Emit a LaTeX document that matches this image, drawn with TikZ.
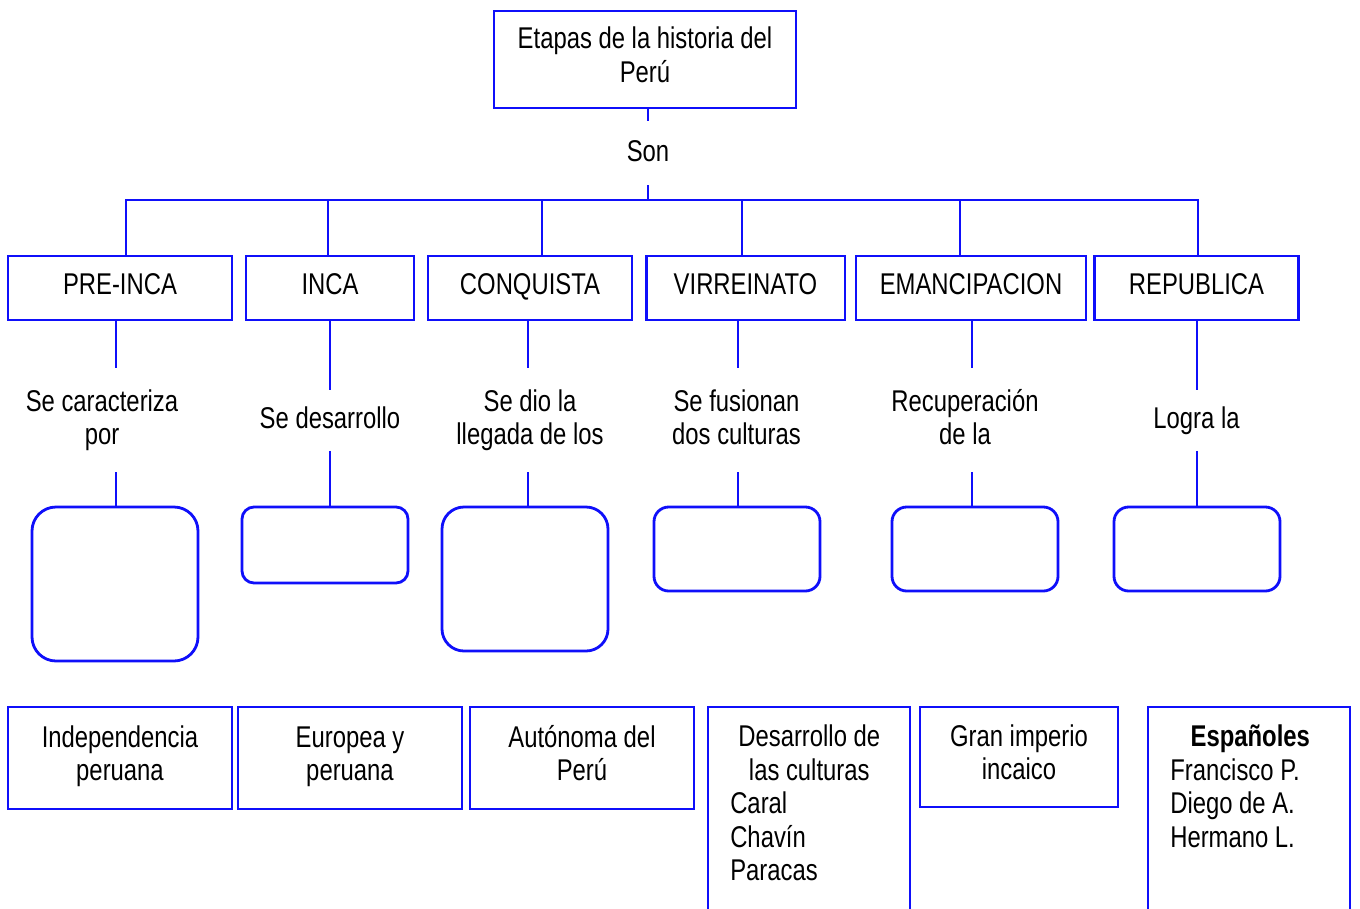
\documentclass[tikz,border=0pt]{standalone}
\usepackage{fontspec}
\setmainfont{Liberation Sans}[FakeStretch=0.795]
\definecolor{lblue}{RGB}{15,15,250}
\newcommand\tstr{\rule{0pt}{17pt}}
\newcommand\bstr{\rule[-5pt]{0pt}{5pt}}
\newcommand\bstrb{\rule[-8pt]{0pt}{8pt}}
\begin{document}
\begin{tikzpicture}[x=0.75pt,y=-0.75pt,
  font=\fontsize{22.5pt}{25.2pt}\selectfont,
  sq/.style={draw=lblue, line width=2pt, align=center, inner sep=0pt},
  rbox/.style={draw=lblue, line width=2.1pt, inner sep=0pt, minimum width=124.5pt},
  mid/.style={align=center, inner sep=0pt},
  conn/.style={draw=lblue, line width=2pt}]
\useasboundingbox (0,0) rectangle (1360,908);
\clip (0,0) rectangle (1360,908);
\fill[white] (0,0) rectangle (1360,908);

% title
\node[sq, minimum width=226.5pt, minimum height=72.75pt] (title) at (645,59.5) {\tstr Etapas de la historia del\\Perú\bstrb};
\node[mid, minimum height=48pt] (son) at (648,153) {\tstr Son\bstr};

% stage boxes
\node[sq, minimum width=168pt, minimum height=48pt] (preinca) at (120,288) {\tstr PRE-INCA\bstrb};
\node[sq, minimum width=126pt, minimum height=48pt] (inca) at (330,288) {\tstr INCA\bstrb};
\node[sq, minimum width=153pt, minimum height=48pt] (conquista) at (530,288) {\tstr CONQUISTA\bstrb};
\node[sq, minimum width=149pt, minimum height=48pt] (virreinato) at (745.5,288) {\tstr VIRREINATO\bstrb};
\node[sq, minimum width=172.5pt, minimum height=48pt] (emanc) at (971,288) {\tstr EMANCIPACION\bstrb};
\node[sq, minimum width=153pt, minimum height=48pt] (republica) at (1196.5,288) {\tstr REPUBLICA\bstrb};

% middle texts
\node[mid, minimum height=78pt] (m1) at (102,420) {\tstr Se caracteriza\\por\bstr};
\node[mid, minimum height=45pt] (m2) at (330,420.5) {\tstr Se desarrollo\bstr};
\node[mid, minimum height=78pt] (m3) at (530,420) {\tstr Se dio la\\llegada de los\bstr};
\node[mid, minimum height=78pt] (m4) at (736.5,420) {\tstr Se fusionan\\dos culturas\bstr};
\node[mid, minimum height=78pt] (m5) at (965,420) {\tstr Recuperación\\de la\bstr};
\node[mid, minimum height=45pt] (m6) at (1196.5,420.5) {\tstr Logra la\bstr};

% empty rounded boxes
\node[rbox, minimum height=115.5pt, rounded corners=18pt] (r1) at (115,584) {};
\node[rbox, minimum height=57pt, rounded corners=9pt] (r2) at (325,545) {};
\node[rbox, minimum height=108pt, rounded corners=16.5pt] (r3) at (525,579) {};
\node[rbox, minimum height=63pt, rounded corners=11pt] (r4) at (737,549) {};
\node[rbox, minimum height=63pt, rounded corners=11pt] (r5) at (975,549) {};
\node[rbox, minimum height=63pt, rounded corners=11pt] (r6) at (1197,549) {};

% bottom boxes
\node[sq, minimum width=168pt, minimum height=76.5pt] (b1) at (120,758) {\tstr Independencia\\peruana\bstrb};
\node[sq, minimum width=168pt, minimum height=76.5pt] (b2) at (350,758) {\tstr Europea y\\peruana\bstrb};
\node[sq, minimum width=168pt, minimum height=76.5pt] (b3) at (582,758) {\tstr Autónoma del\\Perú\bstrb};
\node[sq, minimum width=151.5pt, minimum height=169.5pt] (b4) at (809,820) {};
\node[mid, align=left, anchor=north west] (b4t) at (730,723.5) {\makebox[118.5pt]{\tstr Desarrollo de}\\\makebox[118.5pt]{las culturas}\\Caral\\Chavín\\Paracas};
\node[sq, minimum width=148.5pt, minimum height=75pt] (b5) at (1019,757) {\tstr Gran imperio\\incaico\bstrb};
\node[sq, minimum width=151.5pt, minimum height=169.5pt] (b6) at (1249,820) {};
\node[mid, align=left, anchor=north west] (b6t) at (1170,723.5) {\makebox[120pt]{\tstr\textbf{Españoles}}\\Francisco P.\\Diego de A.\\Hermano L.};

% coordinates
\coordinate (bus) at (648,200);
\coordinate (d1) at (126,200);
\coordinate (d2) at (328,200);
\coordinate (d3) at (542,200);
\coordinate (d4) at (742,200);
\coordinate (d5) at (960,200);
\coordinate (d6) at (1198,200);
\coordinate (c1) at (116,0);
\coordinate (c2) at (330,0);
\coordinate (c3) at (528,0);
\coordinate (c4) at (738,0);
\coordinate (c5) at (972,0);
\coordinate (c6) at (1197,0);

% connectors
\draw[conn] (title.south -| bus) -- (son.north -| bus);
\draw[conn] (son.south -| bus) -- (bus);
\draw[conn] (preinca.north -| d1) -- (d1) -- (d6) -- (republica.north -| d6);
\draw[conn] (d2) -- (inca.north -| d2);
\draw[conn] (d3) -- (conquista.north -| d3);
\draw[conn] (d4) -- (virreinato.north -| d4);
\draw[conn] (d5) -- (emanc.north -| d5);

\draw[conn] (preinca.south -| c1) -- (m1.north -| c1);
\draw[conn] (m1.south -| c1) -- (r1.north -| c1);
\draw[conn] (inca.south -| c2) -- (m2.north -| c2);
\draw[conn] (m2.south -| c2) -- (r2.north -| c2);
\draw[conn] (conquista.south -| c3) -- (m3.north -| c3);
\draw[conn] (m3.south -| c3) -- (r3.north -| c3);
\draw[conn] (virreinato.south -| c4) -- (m4.north -| c4);
\draw[conn] (m4.south -| c4) -- (r4.north -| c4);
\draw[conn] (emanc.south -| c5) -- (m5.north -| c5);
\draw[conn] (m5.south -| c5) -- (r5.north -| c5);
\draw[conn] (republica.south -| c6) -- (m6.north -| c6);
\draw[conn] (m6.south -| c6) -- (r6.north -| c6);
\end{tikzpicture}
\end{document}
